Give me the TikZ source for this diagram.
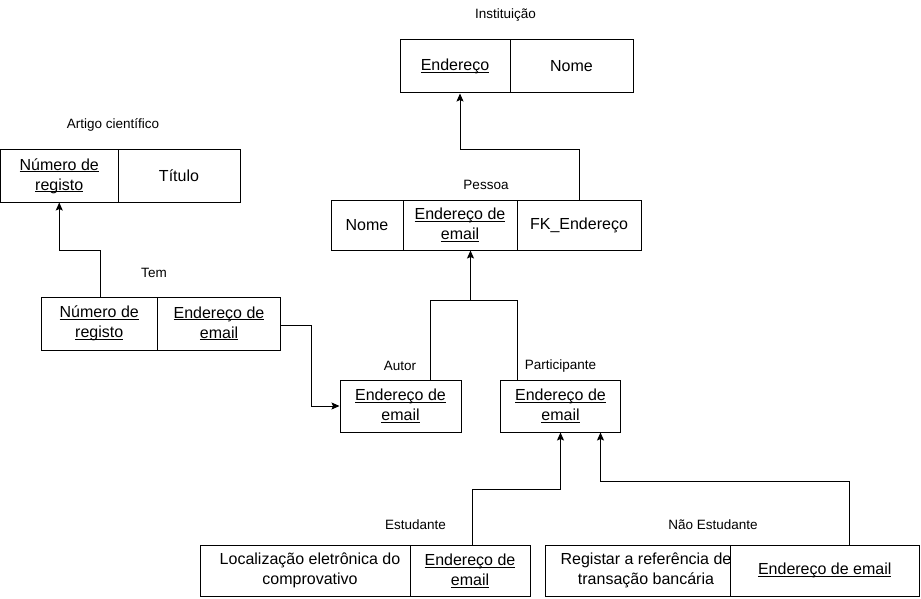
\documentclass[tikz,border=0pt]{standalone}
\usepackage{fontspec}
\setmainfont{Liberation Sans}
\usetikzlibrary{arrows.meta}
% underline set close to the baseline, as a plain rule
\newcommand{\ul}[1]{\setbox0\hbox{#1}\rlap{\rule[-2pt]{\wd0}{0.9pt}}\box0}
\begin{document}
\begin{tikzpicture}[x=1pt,y=-1pt,
  cell/.style={draw=black, line width=1pt, rectangle, inner sep=0pt, align=center,
    minimum height=52pt, font=\fontsize{16}{20}\selectfont},
  tag/.style={inner sep=0pt, font=\fontsize{13.5}{16}\selectfont},
  conn/.style={draw=black, line width=1pt},
  arr/.style={conn, -{Stealth[length=8pt,width=7pt,inset=1.5pt]}}]
\useasboundingbox (0,0) rectangle (921,599);

% Instituicao
\node[tag] (tInst) at (505.5,15) {Instituição};
\node[cell, minimum width=110pt, minimum height=53pt] (inst1) at (455,66.5) {\ul{Endereço}};
\node[cell, minimum width=123pt, minimum height=53pt] (inst2) at (571.5,66.5) {Nome};

% Artigo cientifico
\node[tag] (tArt) at (113,125) {Artigo científico};
\node[cell, minimum width=117.5pt] (art1) at (59.25,176) {\ul{Número de}\\\ul{registo}};
\node[cell, minimum width=122pt] (art2) at (179,176) {Título};

% Pessoa
\node[tag] (tPes) at (486,185) {Pessoa};
\node[cell, minimum width=72pt, minimum height=50pt] (pes1) at (367,225) {Nome};
\node[cell, minimum width=114pt, minimum height=50pt] (pes2) at (460,225) {\ul{Endereço de}\\\ul{email}};
\node[cell, minimum width=124pt, minimum height=50pt] (pes3) at (579,225) {FK\_Endereço};

% Tem
\node[tag] (tTem) at (154,273) {Tem};
\node[cell, minimum width=116.5pt, minimum height=53pt] (tem1) at (99.25,323.5) {\ul{Número de}\\\ul{registo}};
\node[cell, minimum width=123pt, minimum height=53pt] (tem2) at (219,323.5) {\ul{Endereço de}\\\ul{email}};

% Autor and Participante
\node[tag] (tAut) at (400,366) {Autor};
\node[cell, minimum width=121pt] (aut) at (400.5,406) {\ul{Endereço de}\\\ul{email}};
\node[tag] (tPar) at (560.5,366) {Participante};
\node[cell, minimum width=120pt] (par) at (560.5,406) {\ul{Endereço de}\\\ul{email}};

% Estudante
\node[tag] (tEst) at (415.5,525) {Estudante};
\node[cell, minimum width=210pt, minimum height=51.5pt] (est1) at (305,570.75) {\hspace*{10pt}Localização eletrônica do\\\hspace*{10pt}comprovativo};
\node[cell, minimum width=120pt, minimum height=51.5pt] (est2) at (470,570.75) {\ul{Endereço de}\\\ul{email}};

% Nao Estudante
\node[tag] (tNes) at (713,525) {Não Estudante};
\node[cell, minimum width=202pt, minimum height=51.5pt] (nes1) at (646,570.75) {Registar a referência de\\transação bancária};
\node[cell, fill=white, minimum width=189.5pt, minimum height=51.5pt] (nes2) at (824.75,570.75) {\ul{Endereço de email}};

% connectors
\coordinate (i1) at ([xshift=5]inst1.south);
\draw[arr] (pes3.north) |- (i1 |- 0,150) -- (i1);

\coordinate (t1) at ([xshift=1]tem1.north);
\draw[arr] (t1) -- (t1 |- 0,250) -| (art1.south);

\coordinate (t2) at ([yshift=-1.5]tem2.east);
\draw[arr] (t2) -- ++(30,0) |- (aut.west);

\coordinate (p2) at ([xshift=10.5]pes2.south);
\coordinate (a1) at ([xshift=29.5]aut.north);
\coordinate (pa1) at ([xshift=-43.5]par.north);
\draw[arr] (a1) |- (p2 |- 0,300) -- (p2);
\draw[conn] (pa1) |- (p2 |- 0,300);

\coordinate (e2) at ([xshift=2.5]est2.north);
\draw[arr] (e2) -- (e2 |- 0,489) -| (par.south);

\coordinate (n2) at ([xshift=24.5]nes2.north);
\coordinate (pr) at ([xshift=40]par.south);
\draw[arr] (n2) -- (n2 |- 0,481) -| (pr);
\end{tikzpicture}
\end{document}
